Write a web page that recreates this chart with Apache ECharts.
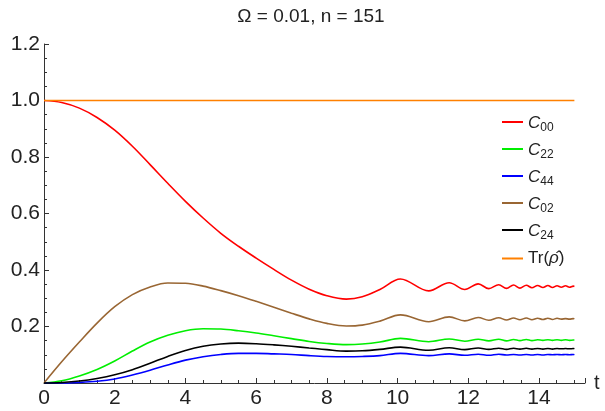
<!DOCTYPE html>
<html>
<head>
<meta charset="utf-8">
<script src="https://cdn.jsdelivr.net/npm/echarts@6/dist/echarts.min.js"></script>
<style>html,body{margin:0;padding:0;background:#fff;}#c{width:605px;height:411px;}</style>
</head>
<body>
<div id="c"></div>
<script>
const titleText = 'Ω = 0.01, n = 151';
const tValues = [0, 0.5, 1, 1.5, 2, 2.5, 3, 3.5, 4, 4.5, 5, 5.5, 6, 6.5, 7, 7.5, 8, 8.55, 9, 9.5,
  10.08, 10.88, 11.46, 11.90, 12.28, 12.58, 12.86, 13.08, 13.28, 13.46, 13.64, 13.80, 13.96, 14.11, 14.25, 14.38, 14.51, 14.63, 14.75, 14.86, 14.97, 15];
const c00 = [1.0, 0.993, 0.973, 0.94, 0.895, 0.838, 0.773, 0.707, 0.643, 0.584, 0.530, 0.484, 0.442, 0.402, 0.364, 0.332, 0.309, 0.297, 0.305, 0.331,
  0.368, 0.326, 0.355, 0.331, 0.351, 0.334, 0.348, 0.335, 0.347, 0.336, 0.346, 0.337, 0.345, 0.338, 0.345, 0.338, 0.344, 0.339, 0.344, 0.339, 0.343, 0.342];
const c22 = [0, 0.008, 0.025, 0.048, 0.078, 0.113, 0.145, 0.169, 0.185, 0.192, 0.191, 0.185, 0.177, 0.167, 0.157, 0.147, 0.140, 0.136, 0.138, 0.145,
  0.158, 0.146, 0.156, 0.148, 0.155, 0.149, 0.155, 0.149, 0.154, 0.150, 0.154, 0.150, 0.153, 0.151, 0.153, 0.151, 0.153, 0.151, 0.153, 0.151, 0.152, 0.152];
const c44 = [0, 0.0, 0.002, 0.006, 0.014, 0.028, 0.045, 0.064, 0.081, 0.093, 0.101, 0.105, 0.105, 0.103, 0.101, 0.097, 0.094, 0.093, 0.094, 0.097,
  0.105, 0.097, 0.103, 0.098, 0.102, 0.098, 0.102, 0.099, 0.101, 0.099, 0.101, 0.099, 0.101, 0.099, 0.101, 0.100, 0.101, 0.100, 0.101, 0.100, 0.101, 0.100];
const c02 = [0, 0.075, 0.145, 0.212, 0.27, 0.313, 0.34, 0.354, 0.353, 0.343, 0.327, 0.309, 0.289, 0.268, 0.247, 0.227, 0.211, 0.202, 0.205, 0.219,
  0.241, 0.217, 0.234, 0.220, 0.232, 0.222, 0.231, 0.223, 0.230, 0.224, 0.230, 0.224, 0.229, 0.225, 0.229, 0.225, 0.229, 0.226, 0.228, 0.226, 0.228, 0.227];
const c24 = [0, 0.002, 0.007, 0.016, 0.029, 0.047, 0.070, 0.094, 0.115, 0.130, 0.138, 0.141, 0.139, 0.135, 0.130, 0.124, 0.118, 0.113, 0.114, 0.119,
  0.127, 0.116, 0.125, 0.118, 0.124, 0.119, 0.123, 0.119, 0.123, 0.120, 0.123, 0.120, 0.122, 0.120, 0.122, 0.120, 0.122, 0.121, 0.122, 0.121, 0.122, 0.121];
const trT = [0, 15];
const trValues = [1.0, 1.0];
const xTicks = [0, 2, 4, 6, 8, 10, 12, 14];
const yTicks = [0.2, 0.4, 0.6, 0.8, 1.0, 1.2];

const seriesDefs = [
  {name: 'C00', sub: '00', t: tValues, v: c00, color: '#ff0000'},
  {name: 'C22', sub: '22', t: tValues, v: c22, color: '#00ee00'},
  {name: 'C44', sub: '44', t: tValues, v: c44, color: '#0000ff'},
  {name: 'C02', sub: '02', t: tValues, v: c02, color: '#996633'},
  {name: 'C24', sub: '24', t: tValues, v: c24, color: '#000000'},
  {name: 'Tr', sub: null, t: trT, v: trValues, color: '#ff8000'}
];

const chart = echarts.init(document.getElementById('c'), null, {renderer: 'canvas'});
const FONT = 'Liberation Sans';
chart.setOption({
  animation: false,
  backgroundColor: '#fff',
  title: {
    text: titleText, left: 306, top: 2, textAlign: 'center',
    textStyle: {fontFamily: FONT, fontSize: 19, fontWeight: 'normal', color: '#222'}
  },
  grid: {left: 44, right: 20, top: 44, bottom: 28, containLabel: false},
  legend: {
    orient: 'vertical', left: 497, top: 110, itemWidth: 21, itemHeight: 2, itemGap: 8.5,
    icon: 'rect',
    data: seriesDefs.map(s => s.name),
    formatter: function (name) {
      const d = seriesDefs.find(s => s.name === name);
      if (d.sub) return '{i|C}{s|' + d.sub + '}';
      return '{n|Tr(}{i|ρ̂}{n|)}';
    },
    textStyle: {
      fontFamily: FONT, color: '#222', fontSize: 16, height: 17,
      rich: {
        i: {fontFamily: FONT, fontStyle: 'italic', fontSize: 17, color: '#222'},
        n: {fontFamily: FONT, fontSize: 17, color: '#222'},
        s: {fontFamily: FONT, fontSize: 12, color: '#222', padding: [8, 0, 0, 0]}
      }
    }
  },
  xAxis: {
    type: 'value', min: 0, max: 15.3, interval: 2,
    name: 't', nameLocation: 'end', nameGap: 9,
    nameTextStyle: {fontFamily: FONT, fontSize: 20, color: '#222', verticalAlign: 'middle'},
    axisLine: {show: true, onZero: false, lineStyle: {color: '#333', width: 1}},
    axisTick: {show: true, inside: true, length: 5, lineStyle: {color: '#333'}},
    minorTick: {show: true, splitNumber: 4, length: 3, lineStyle: {color: '#333'}},
    splitLine: {show: false},
    axisLabel: {
      fontFamily: FONT, fontSize: 21, color: '#222', margin: 5,
      formatter: v => xTicks.includes(v) ? String(v) : ''
    }
  },
  yAxis: {
    type: 'value', min: 0, max: 1.2, interval: 0.2,
    axisLine: {show: true, onZero: false, lineStyle: {color: '#333', width: 1}},
    axisTick: {show: true, inside: true, length: 5, lineStyle: {color: '#333'}},
    minorTick: {show: true, splitNumber: 4, length: 3, lineStyle: {color: '#333'}},
    splitLine: {show: false},
    axisLabel: {
      fontFamily: FONT, fontSize: 21, color: '#222', margin: 4,
      formatter: v => {
        const r = Math.round(v * 10) / 10;
        return yTicks.some(t => Math.abs(t - r) < 1e-9) ? r.toFixed(1) : '';
      }
    }
  },
  series: seriesDefs.map(s => ({
    name: s.name, type: 'line', showSymbol: false, symbol: 'none',
    smooth: 0.35,
    clip: false,
    data: s.t.map((t, i) => [t, s.v[i]]),
    lineStyle: {color: s.color, width: 1.6},
    itemStyle: {color: s.color}
  }))
});
</script>
</body>
</html>
